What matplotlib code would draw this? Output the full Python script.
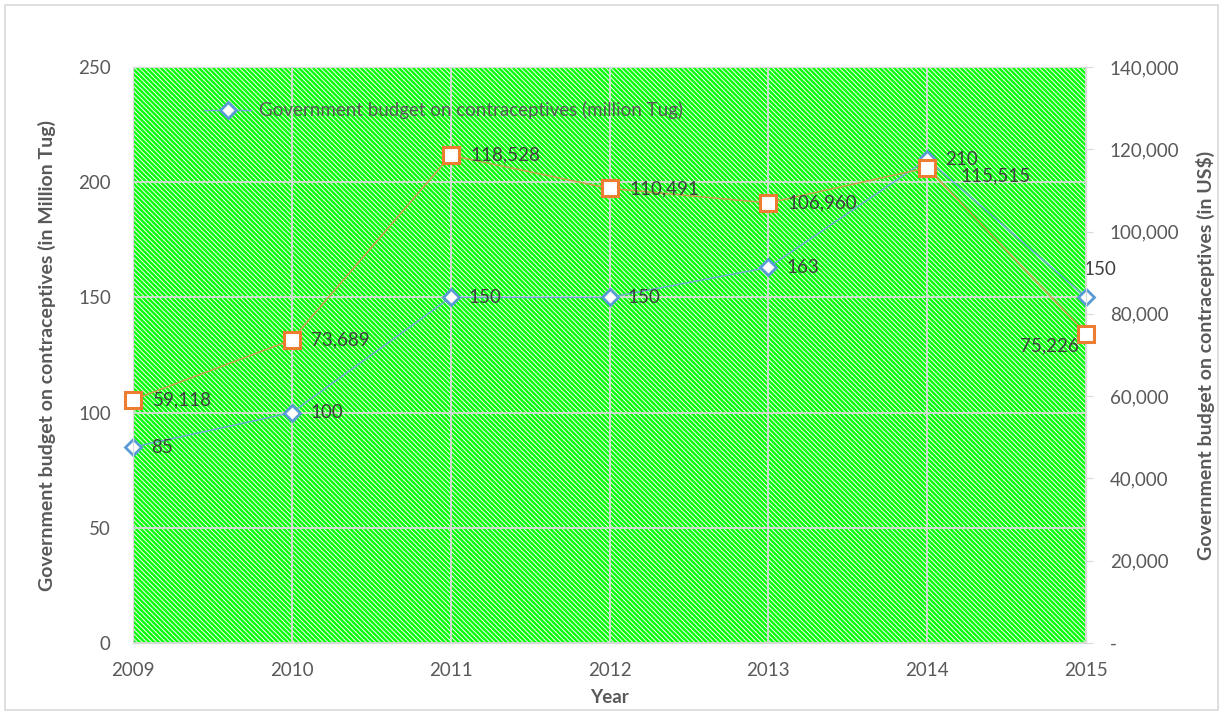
import matplotlib.pyplot as plt
from matplotlib.patches import Rectangle
from matplotlib.ticker import FuncFormatter

years = [2009, 2010, 2011, 2012, 2013, 2014, 2015]
budget_tug = [85, 100, 150, 150, 163, 210, 150]
budget_usd = [59118, 73689, 118528, 110491, 106960, 115515, 75226]

plt.rcParams["font.family"] = ["Lato", "DejaVu Sans"]
plt.rcParams["hatch.linewidth"] = 0.75

TXT = "#595959"
LBL = "#404040"
GRID = "#D9D9D9"
FS = 13.5

fig = plt.figure(figsize=(12.24, 7.13), dpi=100, facecolor="white")
fig.patches.append(Rectangle((0.004, 0.004), 0.991, 0.989, transform=fig.transFigure,
                             fill=False, edgecolor=GRID, linewidth=1.2))

ax = fig.add_axes([0.1087, 0.0982, 0.7786, 0.8078])
ax2 = ax.twinx()

# hatched green plot area
bg = Rectangle((0, 0), 1, 1, transform=ax.transAxes, facecolor="#00FF00",
               edgecolor="#F2F7F2", hatch="\\" * 7, linewidth=0, zorder=0)
ax.add_patch(bg)
ax.set_facecolor("none")

ax.set_xlim(years[0], years[-1])
ax.set_ylim(0, 250)
ax2.set_ylim(0, 140000)
ax.set_xticks(years)
ax.set_yticks(range(0, 251, 50))
ax2.set_yticks(range(0, 140001, 20000))
ax2.yaxis.set_major_formatter(FuncFormatter(lambda v, p: "-" if v == 0 else f"{int(v):,}"))

ax.grid(True, color=GRID, linewidth=1.3, zorder=1)
ax.set_axisbelow(False)
for a in (ax, ax2):
    for s in a.spines.values():
        s.set_color(GRID)
    a.tick_params(colors=TXT, labelsize=FS, length=0)
ax2.tick_params(axis="y", length=5, color=GRID, pad=12)
ax.tick_params(axis="y", pad=16)
ax.tick_params(axis="x", pad=14)

ax.plot(years, budget_tug, color="#6FA8DC", linewidth=1, marker="D", markersize=8,
        markerfacecolor="white", markeredgecolor="#5B9BD5", markeredgewidth=2,
        label="Government budget on contraceptives (million Tug)", zorder=3, clip_on=False)
ax2.plot(years, budget_usd, color="#C9A050", linewidth=1.1, marker="s", markersize=11,
         markerfacecolor="white", markeredgecolor="#ED7D31", markeredgewidth=2.2, zorder=3,
         clip_on=False)

for i, (x, v) in enumerate(zip(years, budget_tug)):
    if i == len(years) - 1:
        ax.annotate(str(v), (x, v), xytext=(10, 20), textcoords="offset points",
                    ha="center", va="center", fontsize=FS, color=LBL)
    else:
        ax.annotate(str(v), (x, v), xytext=(13, 0), textcoords="offset points",
                    ha="left", va="center", fontsize=FS, color=LBL)

for i, (x, v) in enumerate(zip(years, budget_usd)):
    if i == len(years) - 1:
        ax2.annotate(f"{v:,}", (x, v), xytext=(-5, -9), textcoords="offset points",
                     ha="right", va="center", fontsize=FS, color=LBL)
    elif i == 5:
        ax2.annotate(f"{v:,}", (x, v), xytext=(24, -6), textcoords="offset points",
                     ha="left", va="center", fontsize=FS, color=LBL)
    else:
        ax2.annotate(f"{v:,}", (x, v), xytext=(14, 0), textcoords="offset points",
                     ha="left", va="center", fontsize=FS, color=LBL)

ax.set_xlabel("Year", fontsize=FS, fontweight="bold", color=TXT, labelpad=7)
ax.set_ylabel("Government budget on contraceptives (in Million Tug)", fontsize=14,
              fontweight="bold", color=TXT, labelpad=16)
ax2.set_ylabel("Government budget on contraceptives (in US$)", fontsize=14,
               fontweight="bold", color=TXT, labelpad=12)

ax.legend(loc="center left", bbox_to_anchor=(0.057, 0.925), frameon=False,
          fontsize=FS, labelcolor=TXT, handlelength=2.5, handletextpad=0.4)

fig.savefig("out.png", dpi=100)
